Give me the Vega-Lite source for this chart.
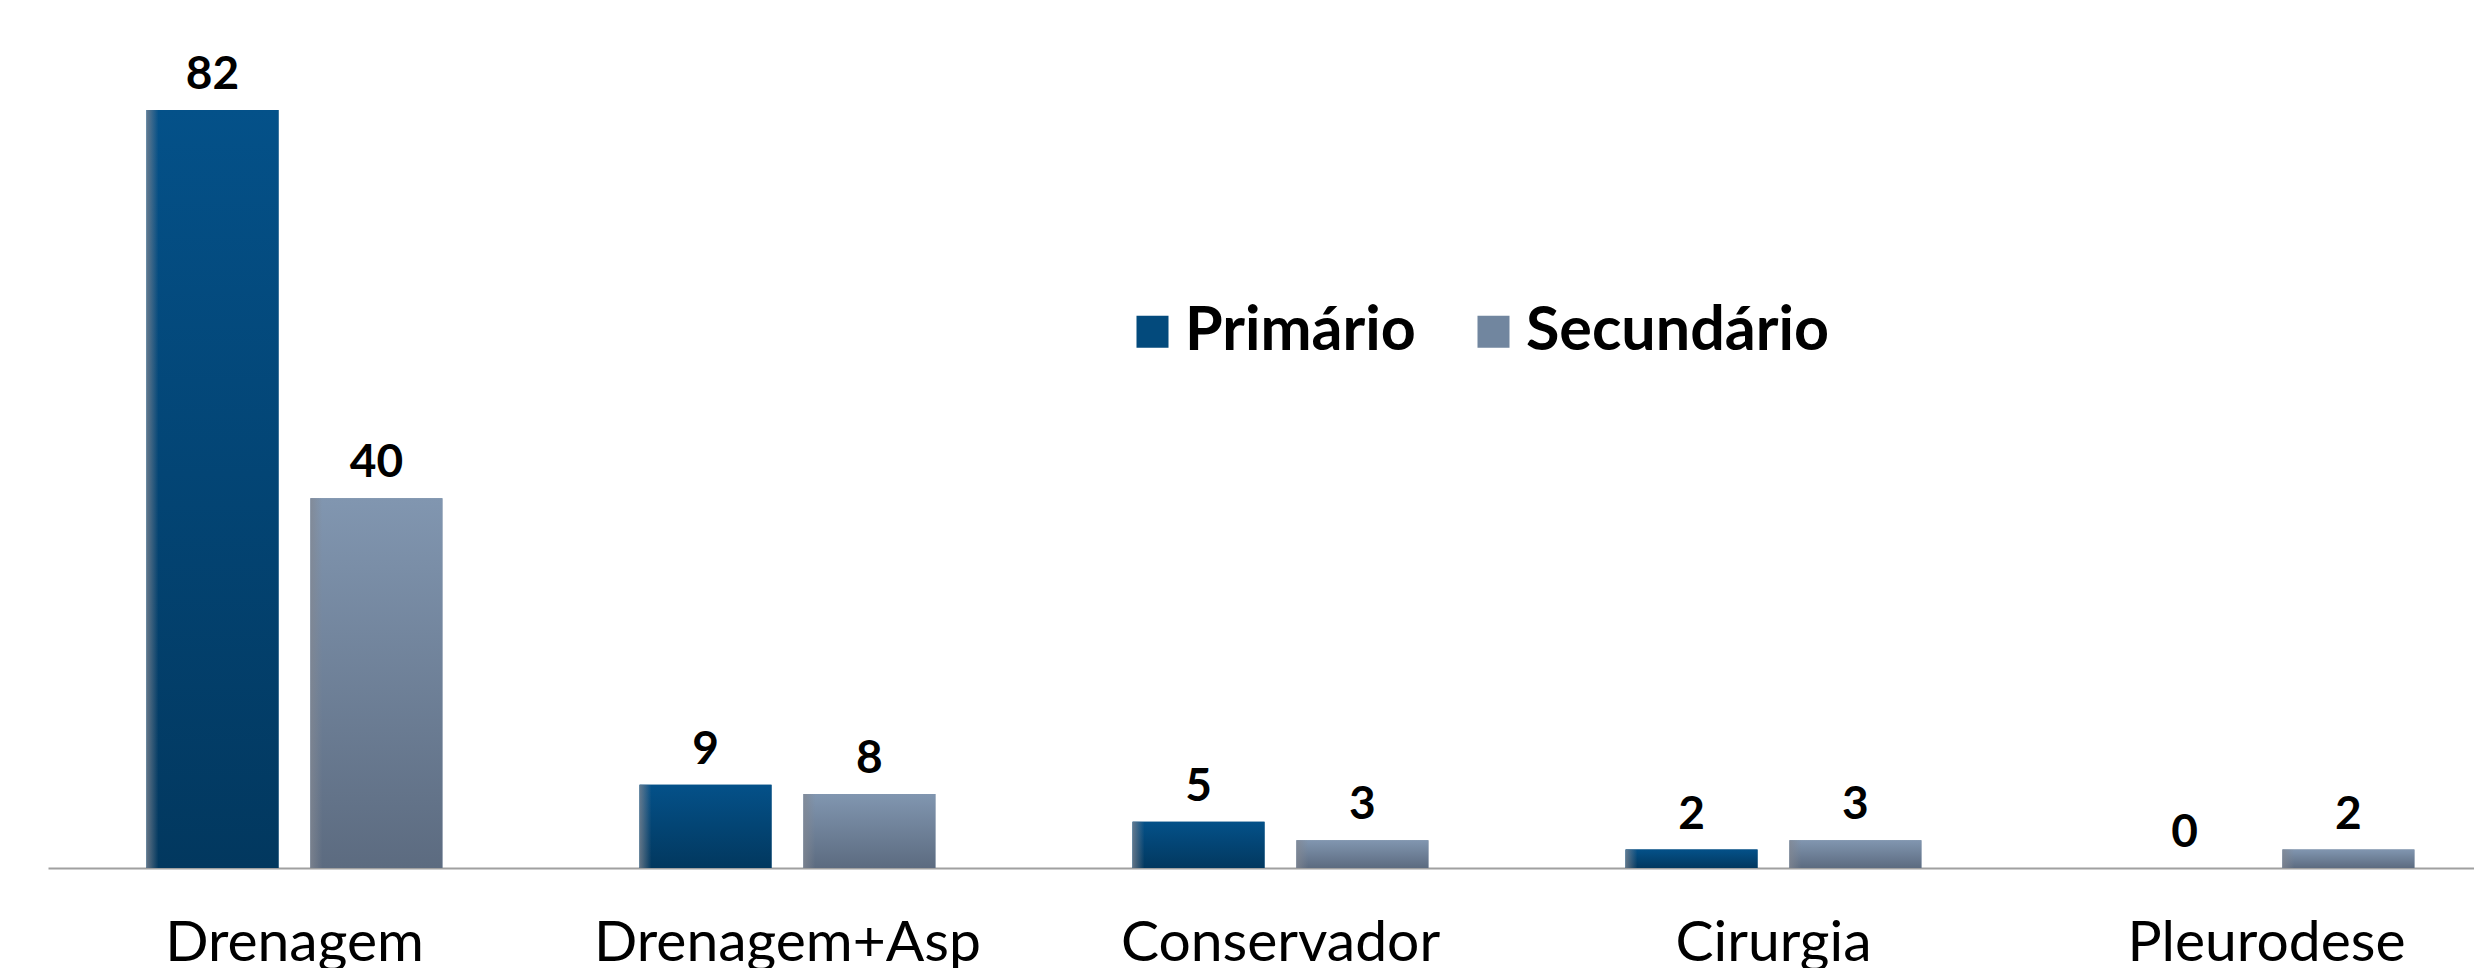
{
  "$schema": "https://vega.github.io/schema/vega-lite/v6.json",
  "width": 2426,
  "height": 832,
  "autosize": "none",
  "padding": {"left": 48, "top": 36, "right": 0, "bottom": 100},
  "background": "white",
  "config": {"view": {"stroke": null}, "font": "Lato"},
  "data": {
    "values": [
      {"categoria": "Drenagem", "serie": "Primário", "valor": 82},
      {"categoria": "Drenagem", "serie": "Secundário", "valor": 40},
      {"categoria": "Drenagem+Asp", "serie": "Primário", "valor": 9},
      {"categoria": "Drenagem+Asp", "serie": "Secundário", "valor": 8},
      {"categoria": "Conservador", "serie": "Primário", "valor": 5},
      {"categoria": "Conservador", "serie": "Secundário", "valor": 3},
      {"categoria": "Cirurgia", "serie": "Primário", "valor": 2},
      {"categoria": "Cirurgia", "serie": "Secundário", "valor": 3},
      {"categoria": "Pleurodese", "serie": "Primário", "valor": 0},
      {"categoria": "Pleurodese", "serie": "Secundário", "valor": 2}
    ]
  },
  "encoding": {
    "x": {
      "field": "categoria",
      "type": "nominal",
      "sort": ["Drenagem", "Drenagem+Asp", "Conservador", "Cirurgia", "Pleurodese"],
      "scale": {"range": [0, 2465], "paddingInner": 0.4, "paddingOuter": 0.2},
      "axis": {
        "title": null,
        "labelAngle": 0,
        "ticks": false,
        "domainColor": "#a0a0a0",
        "domainWidth": 2,
        "labelFont": "Lato",
        "labelFontSize": 57,
        "labelColor": "#000000",
        "labelBaseline": "alphabetic",
        "labelPadding": 92,
        "labelLimit": 0,
        "labelOverlap": false,
        "grid": false
      }
    },
    "xOffset": {
      "field": "serie",
      "type": "nominal",
      "sort": ["Primário", "Secundário"],
      "scale": {"paddingInner": 0.195, "paddingOuter": 0}
    },
    "y": {
      "field": "valor",
      "type": "quantitative",
      "scale": {"domain": [0, 90], "nice": false},
      "axis": null
    }
  },
  "layer": [
    {
      "mark": {"type": "bar"},
      "encoding": {
        "color": {
          "field": "serie",
          "type": "nominal",
          "sort": ["Primário", "Secundário"],
          "scale": {"domain": ["Primário", "Secundário"], "range": ["#034a7c", "#71869f"]},
          "legend": {
            "title": null,
            "orient": "none",
            "direction": "horizontal",
            "legendX": 1074,
            "legendY": 265,
            "symbolType": "square",
            "symbolSize": 1024,
            "symbolStrokeWidth": 0,
            "labelFont": "Lato",
            "labelFontSize": 61,
            "labelFontWeight": "bold",
            "labelColor": "#000000",
            "labelOffset": 2,
            "labelLimit": 0,
            "columnPadding": 47
          }
        }
      }
    },
    {
      "mark": {"type": "bar"},
      "encoding": {
        "fill": {
          "condition": {
            "test": "datum.serie === 'Primário'",
            "value": {
              "gradient": "linear",
              "x1": 0, "y1": 0, "x2": 0, "y2": 1,
              "stops": [
                {"offset": 0, "color": "#045189"},
                {"offset": 1, "color": "#02385f"}
              ]
            }
          },
          "value": {
            "gradient": "linear",
            "x1": 0, "y1": 0, "x2": 0, "y2": 1,
            "stops": [
              {"offset": 0, "color": "#8196b0"},
              {"offset": 1, "color": "#5c6b80"}
            ]
          }
        }
      }
    },
    {
      "mark": {
        "type": "bar",
        "fill": {
          "gradient": "linear",
          "x1": 0, "y1": 0, "x2": 1, "y2": 0,
          "stops": [
            {"offset": 0, "color": "rgba(130,135,145,0.75)"},
            {"offset": 0.09, "color": "rgba(130,135,145,0)"},
            {"offset": 1, "color": "rgba(130,135,145,0)"}
          ]
        }
      },
      "encoding": {}
    },
    {
      "mark": {
        "type": "text",
        "dy": -21,
        "baseline": "alphabetic",
        "font": "Lato",
        "fontSize": 46,
        "fontWeight": "bold",
        "color": "#000000"
      },
      "encoding": {
        "text": {"field": "valor", "type": "quantitative"}
      }
    }
  ]
}
